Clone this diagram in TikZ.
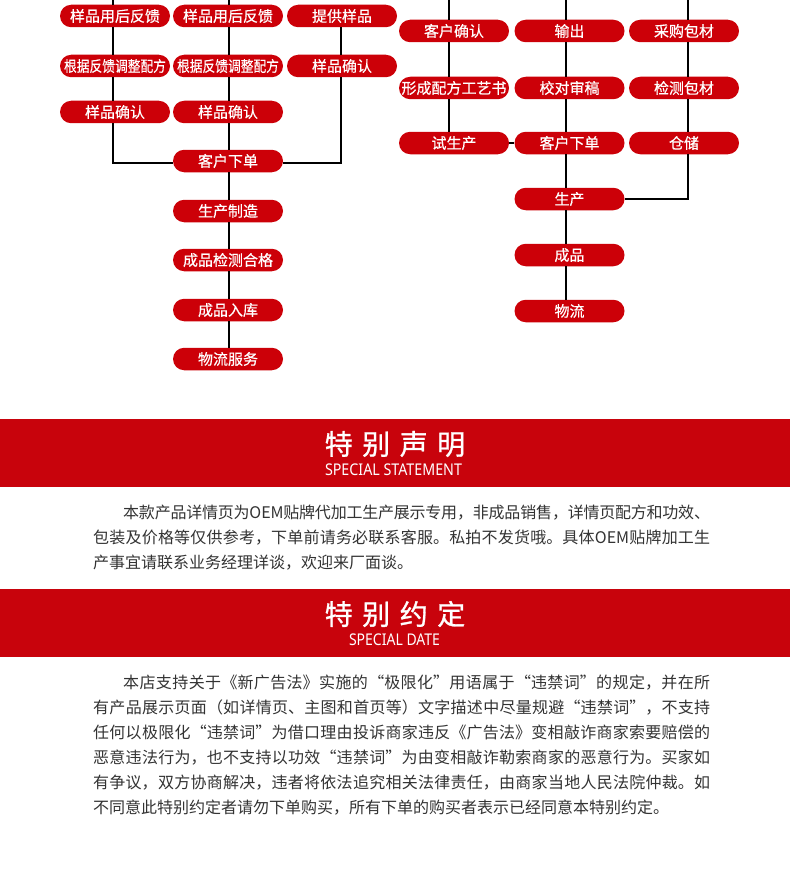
\documentclass[tikz,border=0pt]{standalone}
\usepackage{fontspec}
\usepackage{graphicx}
\setmainfont{Noto Sans CJK SC}
\newfontfamily\cjkmed[FakeBold=1]{Noto Sans CJK SC}
\newfontfamily\cjklight[FakeBold=0.5]{Noto Sans CJK SC}
\newfontfamily\latinsub{Noto Sans}
\XeTeXlinebreaklocale "zh"
\XeTeXlinebreakskip=0pt plus 1pt minus 0.5pt
\definecolor{pillred}{RGB}{204,0,8}
\definecolor{bannerred}{RGB}{200,3,12}
\definecolor{textgray}{RGB}{51,51,51}
\tikzset{
  pill/.style={rectangle, rounded corners=11.25pt, fill=pillred, minimum width=110pt,
    minimum height=22.5pt, inner sep=0pt, text=white, font=\cjklight\fontsize{15pt}{15pt}\selectfont},
  conn/.style={line width=1.6pt, black},
  bannerbox/.style={rectangle, fill=bannerred, minimum width=790pt, minimum height=68pt, inner sep=0pt},
  titletext/.style={text=white, inner sep=0pt, font=\cjkmed\fontsize{28pt}{28pt}\selectfont},
  subtext/.style={text=white, inner sep=0pt},
  para/.style={text width=617pt, align=justify, inner sep=0pt, text=textgray,
    font=\fontsize{16pt}{25pt}\selectfont}
}
\begin{document}
\begin{tikzpicture}[x=1pt,y=-1pt]
\useasboundingbox[fill=white] (0,0) rectangle (790,880);
% left block
\node[pill] (A1) at (115,16) {样品用后反馈};
\node[pill] (A2) at (115,66) {\scalebox{0.85}[1]{根据反馈调整配方}};
\node[pill] (A3) at (115,112) {样品确认};
\node[pill] (B1) at (228,16) {样品用后反馈};
\node[pill] (B2) at (228,66) {\scalebox{0.85}[1]{根据反馈调整配方}};
\node[pill] (B3) at (228,112) {样品确认};
\node[pill] (B4) at (228,161) {客户下单};
\node[pill] (B5) at (228,211) {生产制造};
\node[pill] (B6) at (228,260) {成品检测合格};
\node[pill] (B7) at (228,310) {成品入库};
\node[pill] (B8) at (228,359) {物流服务};
\node[pill] (C1) at (342,16) {提供样品};
\node[pill] (C2) at (342,66) {样品确认};
% right block
\node[pill] (D1) at (454,31) {客户确认};
\node[pill] (D2) at (454,88) {形成配方工艺书};
\node[pill] (D3) at (454,143) {试生产};
\node[pill] (E1) at (569.5,31) {输出};
\node[pill] (E2) at (569.5,88) {校对审稿};
\node[pill] (E3) at (569.5,143) {客户下单};
\node[pill] (E4) at (569.5,199) {生产};
\node[pill] (E5) at (569.5,255) {成品};
\node[pill] (E6) at (569.5,311) {物流};
\node[pill] (F1) at (684,31) {采购包材};
\node[pill] (F2) at (684,88) {检测包材};
\node[pill] (F3) at (684,143) {仓储};
% top coordinates
\coordinate (tA) at (113,0);
\coordinate (tB) at (229,0);
\coordinate (tD) at (449,0);
\coordinate (tE) at (566,0);
\coordinate (tF) at (688,0);
% connectors left
\draw[conn] (tA) -- (tA |- A1.north);
\draw[conn] ([xshift=-2pt]A1.south) -- ([xshift=-2pt]A2.north);
\draw[conn] ([xshift=-2pt]A2.south) -- ([xshift=-2pt]A3.north);
\draw[conn] ([xshift=-2pt]A3.south) |- ([yshift=-2pt]B4.west);
\draw[conn] (tB) -- (tB |- B1.north);
\draw[conn] ([xshift=1pt]B1.south) -- ([xshift=1pt]B2.north);
\draw[conn] ([xshift=1pt]B2.south) -- ([xshift=1pt]B3.north);
\draw[conn] ([xshift=1pt]B3.south) -- ([xshift=1pt]B4.north);
\draw[conn] ([xshift=1pt]B4.south) -- ([xshift=1pt]B5.north);
\draw[conn] ([xshift=1pt]B5.south) -- ([xshift=1pt]B6.north);
\draw[conn] ([xshift=1pt]B6.south) -- ([xshift=1pt]B7.north);
\draw[conn] ([xshift=1pt]B7.south) -- ([xshift=1pt]B8.north);
\draw[conn] ([xshift=-1pt]C1.south) -- ([xshift=-1pt]C2.north);
\draw[conn] ([xshift=-1pt]C2.south) |- ([yshift=-2pt]B4.east);
% connectors right
\draw[conn] (tD) -- (tD |- D1.north);
\draw[conn] ([xshift=-5pt]D1.south) -- ([xshift=-5pt]D2.north);
\draw[conn] ([xshift=-5pt]D2.south) -- ([xshift=-5pt]D3.north);
\draw[conn] (D3.east) -- (E3.west);
\draw[conn] (tE) -- (tE |- E1.north);
\draw[conn] ([xshift=-3.5pt]E1.south) -- ([xshift=-3.5pt]E2.north);
\draw[conn] ([xshift=-3.5pt]E2.south) -- ([xshift=-3.5pt]E3.north);
\draw[conn] ([xshift=-3.5pt]E3.south) -- ([xshift=-3.5pt]E4.north);
\draw[conn] ([xshift=-3.5pt]E4.south) -- ([xshift=-3.5pt]E5.north);
\draw[conn] ([xshift=-3.5pt]E5.south) -- ([xshift=-3.5pt]E6.north);
\draw[conn] (tF) -- (tF |- F1.north);
\draw[conn] ([xshift=4pt]F1.south) -- ([xshift=4pt]F2.north);
\draw[conn] ([xshift=4pt]F2.south) -- ([xshift=4pt]F3.north);
\draw[conn] ([xshift=4pt]F3.south) |- (E4.east);
% banner 1
\node[bannerbox] (ban1) at (395,453) {};
\node[titletext] (t1) at (395,444) {特\hspace{9.5pt}别\hspace{9.5pt}声\hspace{9.5pt}明};
\node[subtext] (s1) at (393.5,469.5) {\resizebox{137pt}{11.7pt}{\latinsub SPECIAL STATEMENT}};
\node[para, anchor=north west] (p1) at (93,505) {\hspace*{30pt}本款产品详情页为OEM贴牌代加工生产展示专用，非成品销售，详情页配方和功效、\linebreak 包装及价格等仅供参考，下单前请务必联系客服。私拍不发货哦。具体OEM贴牌加工生\linebreak 产事宜请联系业务经理详谈，欢迎来厂面谈。};
% banner 2
\node[bannerbox] (ban2) at (395,623) {};
\node[titletext] (t2) at (395,614) {特\hspace{9.5pt}别\hspace{9.5pt}约\hspace{9.5pt}定};
\node[subtext] (s2) at (394.5,639.5) {\resizebox{91pt}{11.7pt}{\latinsub SPECIAL DATE}};
\node[para, anchor=north west] (p2) at (93,675) {\hspace*{30pt}本店支持关于《新广告法》实施的“极限化”用语属于“违禁词”的规定，并在所\linebreak 有产品展示页面（如详情页、主图和首页等）文字描述中尽量规避“违禁词”，不支持\linebreak 任何以极限化“违禁词”为借口理由投诉商家违反《广告法》变相敲诈商家索要赔偿的\linebreak 恶意违法行为，也不支持以功效“违禁词”为由变相敲诈勒索商家的恶意行为。买家如\linebreak 有争议，双方协商解决，违者将依法追究相关法律责任，由商家当地人民法院仲裁。如\linebreak 不同意此特别约定者请勿下单购买，所有下单的购买者表示已经同意本特别约定。};
\end{tikzpicture}
\end{document}
